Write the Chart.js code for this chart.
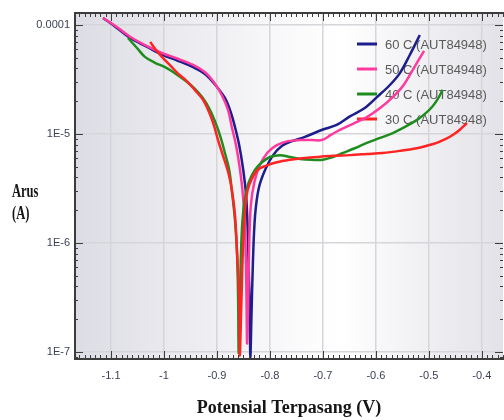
<!DOCTYPE html>
<html>
<head>
<meta charset="utf-8">
<script src="https://cdn.jsdelivr.net/npm/chart.js@4.4.1/dist/chart.umd.min.js"></script>
<style>
  html, body { margin: 0; padding: 0; background: #fff; }
</style>
</head>
<body>
<canvas id="tafel-chart" width="504" height="420"></canvas>
<script>
// series names and colours
const seriesLabels = ['60 C (AUT84948)', '50 C (AUT84948)', '40 C (AUT84948)', '30 C (AUT84948)'];
const seriesColors = ['#1d1d8c', '#ff3a9e', '#1e8c1e', '#ff2424'];

// 60 C
const volt60 = [-1.115, -1.089, -1.064, -1.032, -1.002, -0.974, -0.945, -0.921, -0.900, -0.885, -0.874, -0.866, -0.858,
                -0.851, -0.845, -0.842, -0.840, -0.838, -0.837,
                -0.835, -0.832, -0.828, -0.821, -0.809, -0.794, -0.777, -0.758, -0.734, -0.700, -0.674, -0.649,
                -0.621, -0.598, -0.574, -0.555, -0.536, -0.517];
const amp60  = [1.16e-4, 9.4e-5, 7.6e-5, 6.3e-5, 5.3e-5, 4.7e-5, 4.1e-5, 3.5e-5, 2.7e-5, 2.14e-5, 1.59e-5, 1.16e-5, 7.9e-6,
                4.9e-6, 2.75e-6, 1.31e-6, 5.6e-7, 2.4e-7, 9.0e-8,
                2.0e-7, 7.0e-7, 1.8e-6, 3.2e-6, 4.7e-6, 6.4e-6, 7.8e-6, 8.6e-6, 9.4e-6, 1.1e-5, 1.21e-5, 1.45e-5,
                1.73e-5, 2.18e-5, 2.8e-5, 3.6e-5, 5.3e-5, 8.1e-5];

// 50 C
const volt50 = [-1.115, -1.089, -1.064, -1.032, -1.002, -0.974, -0.945, -0.923, -0.906, -0.891, -0.879, -0.872, -0.864,
                -0.857, -0.851, -0.847, -0.845, -0.844, -0.843,
                -0.841, -0.839, -0.836, -0.830, -0.819, -0.804, -0.787, -0.766, -0.743, -0.721, -0.702, -0.685,
                -0.668, -0.643, -0.617, -0.592, -0.568, -0.549, -0.530, -0.509];
const amp50  = [1.16e-4, 9.6e-5, 7.8e-5, 6.4e-5, 5.5e-5, 4.9e-5, 4.3e-5, 3.7e-5, 3.0e-5, 2.28e-5, 1.66e-5, 1.16e-5, 7.9e-6,
                4.9e-6, 2.75e-6, 1.31e-6, 5.6e-7, 2.4e-7, 1.2e-7,
                3.0e-7, 1.07e-6, 2.23e-6, 3.5e-6, 5.2e-6, 6.8e-6, 7.9e-6, 8.6e-6, 8.8e-6, 8.8e-6, 8.8e-6, 9.8e-6,
                1.09e-5, 1.24e-5, 1.43e-5, 1.73e-5, 2.18e-5, 2.75e-5, 3.9e-5, 5.8e-5];

// 40 C
const volt40 = [-1.068, -1.051, -1.036, -1.017, -0.998, -0.979, -0.960, -0.943, -0.928, -0.915, -0.904, -0.894, -0.885,
                -0.877, -0.872, -0.866, -0.862, -0.860, -0.859,
                -0.857, -0.855, -0.852, -0.847, -0.840, -0.828, -0.815, -0.800, -0.781, -0.762, -0.743, -0.721,
                -0.700, -0.681, -0.662, -0.640, -0.617, -0.592, -0.568, -0.545, -0.523, -0.508, -0.494, -0.483, -0.474];
const amp40  = [7.6e-5, 6.15e-5, 5.1e-5, 4.5e-5, 4.1e-5, 3.6e-5, 3.1e-5, 2.64e-5, 2.18e-5, 1.73e-5, 1.32e-5, 9.6e-6, 6.7e-6,
                4.7e-6, 3.06e-6, 1.63e-6, 7.8e-7, 3.0e-7, 9.8e-8,
                2.4e-7, 7.0e-7, 1.56e-6, 2.6e-6, 3.6e-6, 4.7e-6, 5.5e-6, 6.15e-6, 6.4e-6, 6.15e-6, 5.9e-6, 5.8e-6,
                5.8e-6, 6.15e-6, 6.7e-6, 7.4e-6, 8.3e-6, 9.2e-6, 1.02e-5, 1.16e-5, 1.34e-5, 1.52e-5, 1.77e-5, 2.1e-5, 2.54e-5];

// 30 C
const volt30 = [-1.026, -1.015, -1.004, -0.989, -0.974, -0.957, -0.942, -0.926, -0.915, -0.906, -0.898, -0.889, -0.879,
                -0.872, -0.866, -0.862, -0.858, -0.857,
                -0.854, -0.851, -0.847, -0.842, -0.834, -0.823, -0.808, -0.787, -0.762, -0.738, -0.711, -0.681,
                -0.649, -0.617, -0.587, -0.555, -0.523, -0.504, -0.485, -0.468, -0.455, -0.442, -0.428];
const amp30  = [7.0e-5, 5.9e-5, 5.1e-5, 4.3e-5, 3.6e-5, 3.06e-5, 2.54e-5, 2.05e-5, 1.59e-5, 1.21e-5, 8.8e-6, 6.4e-6, 4.5e-6,
                3.1e-6, 1.8e-6, 8.1e-7, 3.0e-7, 9.3e-8,
                2.7e-7, 8.6e-7, 2.0e-6, 3.06e-6, 3.9e-6, 4.7e-6, 5.1e-6, 5.5e-6, 5.8e-6, 6.0e-6, 6.15e-6, 6.3e-6,
                6.4e-6, 6.55e-6, 6.7e-6, 7.0e-6, 7.4e-6, 7.8e-6, 8.3e-6, 9.0e-6, 9.8e-6, 1.09e-5, 1.26e-5];

// axis ticks
const xTicks = [-1.1, -1, -0.9, -0.8, -0.7, -0.6, -0.5, -0.4];
const yTicks = [1e-4, 1e-5, 1e-6, 1e-7];
const yTickLabels = ['0.0001', '1E-5', '1E-6', '1E-7'];

const volts = [volt60, volt50, volt40, volt30];
const amps = [amp60, amp50, amp40, amp30];

const datasets = seriesLabels.map(function(label, i) {
    return {
        label: label,
        data: volts[i].map(function(v, j) { return { x: v, y: amps[i][j] }; }),
        borderColor: seriesColors[i],
        backgroundColor: seriesColors[i],
        borderWidth: 2.5,
        pointRadius: 0,
        showLine: true,
        tension: 0.35,
        order: 3 - i
    };
});

// background, frame with minor ticks, legend and the y title
const decor = {
    id: 'decor',
    beforeDraw(chart) {
        const { ctx, chartArea: a } = chart;
        const g = ctx.createLinearGradient(a.left, 0, a.right, 0);
        g.addColorStop(0, '#dcdce4');
        g.addColorStop(0.45, '#f7f7f9');
        g.addColorStop(0.62, '#ffffff');
        g.addColorStop(1, '#e2e2e8');
        ctx.save();
        ctx.fillStyle = g;
        ctx.fillRect(a.left, a.top, a.right - a.left, a.bottom - a.top);
        ctx.restore();
    },
    beforeDatasetsDraw(chart) {
        const ctx = chart.ctx;
        ctx.save();
        ctx.font = '13px "Liberation Sans", Arial, sans-serif';
        ctx.textBaseline = 'middle';
        const rows = [44, 69, 94, 119];
        chart.data.datasets.forEach(function(ds, i) {
            ctx.strokeStyle = ds.borderColor;
            ctx.lineWidth = 3;
            ctx.beginPath();
            ctx.moveTo(357, rows[i]);
            ctx.lineTo(377, rows[i]);
            ctx.stroke();
            ctx.fillStyle = '#5a5a5a';
            ctx.fillText(ds.label, 385, rows[i] + 1);
        });
        ctx.restore();
    },
    afterDraw(chart) {
        const { ctx, chartArea: a, scales: { x, y } } = chart;
        ctx.save();
        ctx.strokeStyle = '#3c3c3c';

        // minor x ticks, bottom and top
        ctx.lineWidth = 1;
        ctx.beginPath();
        for (let i = -116; i <= -36; i++) {
            const px = Math.round(x.getPixelForValue(i / 100)) + 0.5;
            const len = (i % 10 === 0) ? 8 : 4;
            ctx.moveTo(px, a.bottom); ctx.lineTo(px, a.bottom - len);
            ctx.moveTo(px, a.top); ctx.lineTo(px, a.top + len);
        }
        // minor y ticks, left and right
        for (let d = -8; d <= -4; d++) {
            for (let m = 1; m <= 9; m++) {
                const v = m * Math.pow(10, d);
                if (v < y.min || v > y.max) continue;
                const py = Math.round(y.getPixelForValue(v)) + 0.5;
                const len = (m === 1) ? 8 : 3;
                ctx.moveTo(a.left, py); ctx.lineTo(a.left + len, py);
                ctx.moveTo(a.right, py); ctx.lineTo(a.right - len, py);
            }
        }
        ctx.stroke();

        // frame
        ctx.lineWidth = 2;
        ctx.beginPath();
        ctx.moveTo(a.right + 2, a.top);
        ctx.lineTo(a.left, a.top);
        ctx.lineTo(a.left, a.bottom);
        ctx.lineTo(a.right + 2, a.bottom);
        ctx.stroke();

        // y axis title, horizontal and narrow
        ctx.fillStyle = '#151515';
        ctx.font = 'bold 19px "Liberation Serif", "Times New Roman", serif';
        ctx.textBaseline = 'alphabetic';
        ctx.translate(12, 0);
        ctx.scale(0.66, 1);
        ctx.fillText('Arus', 0, 197);
        ctx.fillText('(A)', 0, 219);
        ctx.restore();
    }
};

new Chart(document.getElementById('tafel-chart'), {
    type: 'scatter',
    data: { datasets: datasets },
    options: {
        responsive: false,
        animation: false,
        layout: { padding: { top: 13, right: 1, left: 0, bottom: 0 } },
        plugins: {
            legend: { display: false },
            tooltip: { enabled: false }
        },
        scales: {
            x: {
                type: 'linear',
                min: -1.168,
                max: -0.36,
                afterBuildTicks: function(scale) {
                    scale.ticks = xTicks.map(function(v) { return { value: v }; });
                },
                afterFit: function(scale) { scale.height = 61; },
                grid: { color: '#d6d6da', lineWidth: 1.5, drawTicks: false },
                border: { display: false },
                ticks: {
                    padding: 10,
                    color: '#3a3f55',
                    font: { family: '"Liberation Sans", Arial, sans-serif', size: 11 },
                    callback: function(v) { return String(+v.toFixed(1)); }
                },
                title: {
                    display: true,
                    text: 'Potensial Terpasang (V)',
                    color: '#151515',
                    font: { family: '"Liberation Serif", "Times New Roman", serif', size: 18, weight: 'bold' },
                    padding: { top: 0, bottom: 1 }
                }
            },
            y: {
                type: 'logarithmic',
                min: 8.63e-8,
                max: 1.288e-4,
                afterBuildTicks: function(scale) {
                    scale.ticks = yTicks.map(function(v) { return { value: v }; });
                },
                afterFit: function(scale) { scale.width = 75; },
                grid: { color: '#d6d6da', lineWidth: 1.5, drawTicks: false },
                border: { display: false },
                ticks: {
                    padding: 5,
                    color: '#3a3f55',
                    font: { family: '"Liberation Sans", Arial, sans-serif', size: 11 },
                    callback: function(v) {
                        const k = yTicks.indexOf(v);
                        return k >= 0 ? yTickLabels[k] : '';
                    }
                }
            }
        }
    },
    plugins: [decor]
});
</script>
</body>
</html>
